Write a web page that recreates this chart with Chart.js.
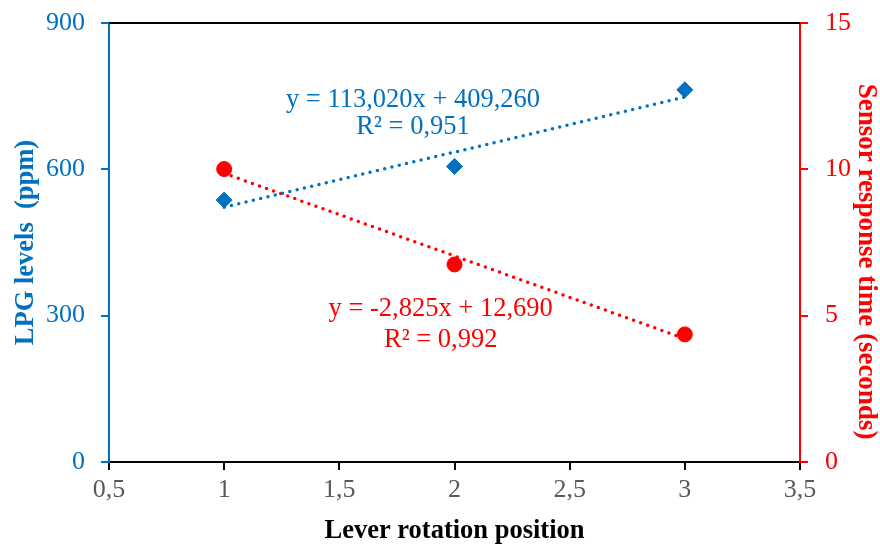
<!DOCTYPE html>
<html>
<head>
<meta charset="utf-8">
<script src="https://cdn.jsdelivr.net/npm/chart.js@4/dist/chart.umd.min.js"></script>
<style>
  html, body { margin: 0; padding: 0; background: #fff; }
  #wrap { width: 880px; height: 547px; }
</style>
</head>
<body>
<div id="wrap"><canvas id="leverChart"></canvas></div>
<script>
// data
const positions = [1, 2, 3];
const lpgLevels = [537, 606, 763];          // ppm, left axis
const responseTimes = [10.01, 6.75, 4.36];  // seconds, right axis
const trendX = [1, 3];
const lpgTrend = [522.28, 748.32];          // y = 113,020x + 409,260
const timeTrend = [9.865, 4.215];           // y = -2,825x + 12,690
const xTicks = [0.5, 1, 1.5, 2, 2.5, 3, 3.5];

const BLUE = "#0070C0";
const RED = "#FF0000";
const SERIF = "'Liberation Serif', 'Times New Roman', serif";

const comma = v => String(v).replace(".", ",");

// fixed axis sizes so the plot area lands where the original has it
const fixWidth = w => axis => {
  axis.width = w;
  axis.paddingTop = 0;
  axis.paddingBottom = 0;
};

// equation labels, right axis title and top border of the plot area
const extras = {
  id: "extras",
  afterDatasetsDraw(chart) {
    const { ctx, chartArea, scales } = chart;
    ctx.save();
    ctx.strokeStyle = "#000";
    ctx.lineWidth = 2;
    ctx.beginPath();
    ctx.moveTo(chartArea.left, chartArea.top);
    ctx.lineTo(chartArea.right, chartArea.top);
    ctx.stroke();

    ctx.font = "26.5px " + SERIF;
    ctx.textAlign = "center";
    ctx.textBaseline = "middle";
    const bx = scales.x.getPixelForValue(1.82);
    ctx.fillStyle = BLUE;
    ctx.fillText("y = 113,020x + 409,260", bx, scales.y.getPixelForValue(742));
    ctx.fillText("R\u00B2 = 0,951", bx, scales.y.getPixelForValue(686));
    const rx = scales.x.getPixelForValue(1.94);
    ctx.fillStyle = RED;
    ctx.fillText("y = -2,825x + 12,690", rx, scales.y2.getPixelForValue(5.23));
    ctx.fillText("R\u00B2 = 0,992", rx, scales.y2.getPixelForValue(4.18));

    // right axis title, sits a bit below the middle in the original
    ctx.translate(866, scales.y2.getPixelForValue(6.85));
    ctx.rotate(Math.PI / 2);
    ctx.font = "bold 27px " + SERIF;
    ctx.fillText("Sensor response time (seconds)", 0, 0);
    ctx.restore();
  }
};

const ctx = document.getElementById("leverChart").getContext("2d");
new Chart(ctx, {
  type: "scatter",
  data: {
    datasets: [
      {
        label: "LPG trend",
        type: "line",
        data: trendX.map((x, i) => ({ x, y: lpgTrend[i] })),
        yAxisID: "y",
        borderColor: BLUE,
        borderWidth: 3.5,
        borderDash: [0, 7.5],
        borderCapStyle: "round",
        pointRadius: 0,
        fill: false
      },
      {
        label: "Time trend",
        type: "line",
        data: trendX.map((x, i) => ({ x, y: timeTrend[i] })),
        yAxisID: "y2",
        borderColor: RED,
        borderWidth: 3.5,
        borderDash: [0, 7.5],
        borderCapStyle: "round",
        pointRadius: 0,
        fill: false
      },
      {
        label: "LPG levels",
        data: positions.map((x, i) => ({ x, y: lpgLevels[i] })),
        yAxisID: "y",
        pointStyle: "rectRot",
        pointRadius: 8,
        backgroundColor: BLUE,
        borderColor: BLUE
      },
      {
        label: "Response time",
        data: positions.map((x, i) => ({ x, y: responseTimes[i] })),
        yAxisID: "y2",
        pointStyle: "circle",
        pointRadius: 7.5,
        backgroundColor: RED,
        borderColor: RED
      }
    ]
  },
  options: {
    responsive: true,
    maintainAspectRatio: false,
    animation: false,
    layout: { padding: { top: 23, left: 0, right: 0, bottom: 0 } },
    plugins: {
      legend: { display: false },
      tooltip: { enabled: false }
    },
    scales: {
      x: {
        type: "linear",
        min: 0.5,
        max: 3.5,
        afterBuildTicks: axis => { axis.ticks = xTicks.map(v => ({ value: v })); },
        afterFit: axis => { axis.height = 85; axis.paddingLeft = 0; axis.paddingRight = 0; },
        border: { color: "#000", width: 2 },
        grid: { drawOnChartArea: false, color: "#000", tickLength: 8, lineWidth: 2 },
        ticks: { color: "#595959", font: { family: SERIF, size: 26 }, padding: 5, callback: comma },
        title: {
          display: true,
          text: "Lever rotation position",
          color: "#000",
          font: { family: SERIF, size: 26.5, weight: "bold" },
          padding: { top: 4, bottom: 0 }
        }
      },
      y: {
        position: "left",
        min: 0,
        max: 900,
        afterFit: fixWidth(109),
        border: { color: BLUE, width: 2 },
        grid: { drawOnChartArea: false, color: BLUE, tickLength: 8, lineWidth: 2 },
        ticks: { stepSize: 300, color: BLUE, font: { family: SERIF, size: 26 }, padding: 16 },
        title: {
          display: true,
          text: "LPG levels  (ppm)",
          color: BLUE,
          font: { family: SERIF, size: 26.5, weight: "bold" },
          padding: { top: 10, bottom: 0 }
        }
      },
      y2: {
        position: "right",
        min: 0,
        max: 15,
        afterFit: fixWidth(80),
        border: { color: RED, width: 2 },
        grid: { drawOnChartArea: false, color: RED, tickLength: 8, lineWidth: 2 },
        ticks: { stepSize: 5, color: RED, font: { family: SERIF, size: 26 }, padding: 17 }
      }
    }
  },
  plugins: [extras]
});
</script>
</body>
</html>
